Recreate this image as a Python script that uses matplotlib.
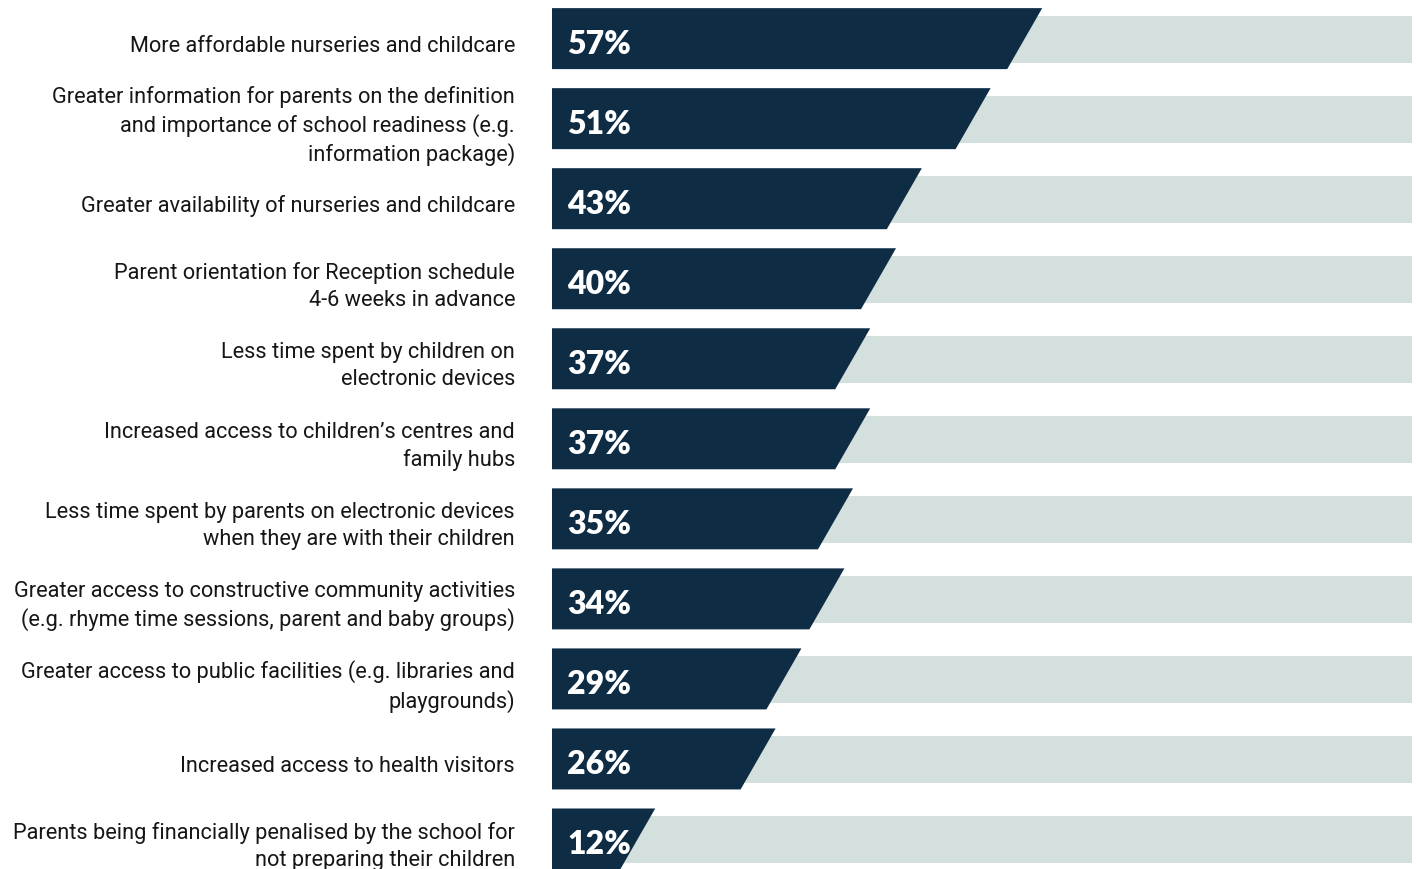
import matplotlib.pyplot as plt
from matplotlib.patches import Polygon, Rectangle

labels = [
    "More affordable nurseries and childcare",
    "Greater information for parents on the definition\nand importance of school readiness (e.g.\ninformation package)",
    "Greater availability of nurseries and childcare",
    "Parent orientation for Reception schedule\n4-6 weeks in advance",
    "Less time spent by children on\nelectronic devices",
    "Increased access to children\u2019s centres and\nfamily hubs",
    "Less time spent by parents on electronic devices\nwhen they are with their children",
    "Greater access to constructive community activities\n(e.g. rhyme time sessions, parent and baby groups)",
    "Greater access to public facilities (e.g. libraries and\nplaygrounds)",
    "Increased access to health visitors",
    "Parents being financially penalised by the school for\nnot preparing their children",
]
values = [57, 51, 43, 40, 37, 37, 35, 34, 29, 26, 12]

NAVY = "#0e2c44"
BAND = "#d3e0dd"


def main():
    fig = plt.figure(figsize=(14.16, 8.7), dpi=100)
    ax = fig.add_axes([552 / 1416, 0, 860 / 1416, 1])
    ax.set_xlim(0, 100)
    ax.set_ylim(10.375, -0.495)
    ax.axis("off")

    bar_h = 0.762
    band_h = 0.587
    slant = 4.07
    for i, (lab, v) in enumerate(zip(labels, values)):
        # pale band across the full width, then the slanted bar on top
        ax.add_patch(Rectangle((0, i - band_h / 2 + 0.012), 100, band_h,
                               facecolor=BAND, edgecolor="none"))
        top, bot = i - bar_h / 2, i + bar_h / 2
        ax.add_patch(Polygon([(0, top), (v, top), (v - slant, bot), (0, bot)],
                             closed=True, facecolor=NAVY, edgecolor="none"))
        ax.text(1.75, i + 0.06, f"{v}%", color="white", fontsize=23,
                fontweight="heavy", family=["Lato", "DejaVu Sans"],
                ha="left", va="center")
        ax.text(-4.3, i + 0.08, lab, color="#161616", fontsize=15.7,
                family=["Roboto", "DejaVu Sans"], ha="right", va="center",
                multialignment="right", linespacing=1.36, clip_on=False)

    fig.savefig("out.png", dpi=100)


if __name__ == "__main__":
    main()
